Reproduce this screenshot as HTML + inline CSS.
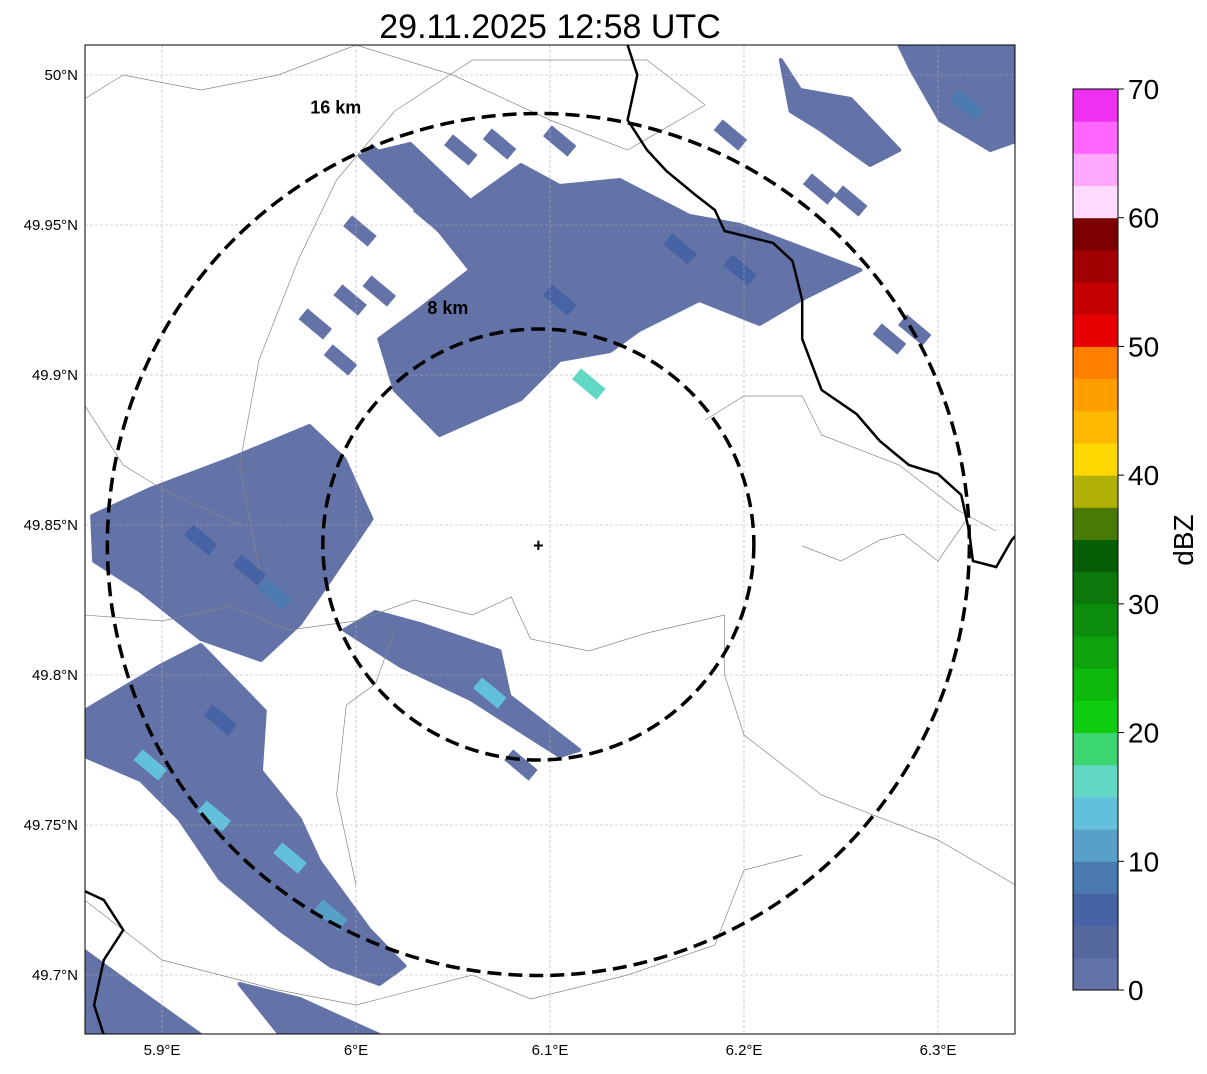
<!DOCTYPE html>
<html><head><meta charset="utf-8"><style>
html,body{margin:0;padding:0;background:#fff;}
body{width:1207px;height:1069px;overflow:hidden;font-family:"Liberation Sans",sans-serif;}
</style></head><body>
<svg id="chart" width="1207" height="1069" xmlns="http://www.w3.org/2000/svg">
<text x="550" y="38" text-anchor="middle" font-size="34" font-family="Liberation Sans">29.11.2025 12:58 UTC</text>
<defs><clipPath id="mapclip"><rect x="85" y="45" width="930" height="989"/></clipPath></defs>
<g id="map" clip-path="url(#mapclip)"></g>
<rect x="85" y="45" width="930" height="989" fill="none" stroke="#000" stroke-width="1"/>
<g id="axes"></g>
<g id="cbar"></g>
</svg>
<script>
const NS="http://www.w3.org/2000/svg";
const lonTicks=[5.9,6.0,6.1,6.2,6.3];
const lonLabels=["5.9°E","6°E","6.1°E","6.2°E","6.3°E"];
const latTicks=[50.0,49.95,49.9,49.85,49.8,49.75,49.7];
const latLabels=["50°N","49.95°N","49.9°N","49.85°N","49.8°N","49.75°N","49.7°N"];
const radarLon=6.094, radarLat=49.8435;
const ringKm=[16,8];
const cbTicks=[0,10,20,30,40,50,60,70];
const cbBins=["#6373a8","#5568a0","#4862a6","#4a7ab0","#58a0c8","#62c0dc","#60d8c4","#3cd670","#10cc10","#0eb90e","#0ea30e","#0c8c0c","#0b780b","#055e05","#4a7a06","#b0b006","#ffd800","#ffb800","#ff9e00","#ff7f00","#e60000","#c40000","#a20000","#7c0000","#ffdcff","#ffaaff","#ff66ff","#f030f0"];
const echoRegions=[
 {dbz:1,pts:[[6.002,49.973],[6.028,49.977],[6.059,49.958],[6.085,49.970],[6.105,49.963],[6.136,49.965],[6.172,49.953],[6.198,49.950],[6.219,49.945],[6.260,49.935],[6.229,49.925],[6.208,49.917],[6.177,49.925],[6.146,49.915],[6.131,49.908],[6.105,49.905],[6.085,49.892],[6.043,49.880],[6.020,49.895],[6.012,49.912],[6.033,49.922],[6.059,49.935],[6.043,49.948],[6.023,49.960]]},
 {dbz:1,pts:[[6.280,50.01],[6.340,50.01],[6.340,49.978],[6.327,49.975],[6.301,49.985],[6.286,50.002]]},
 {dbz:1,pts:[[6.219,50.005],[6.229,49.995],[6.255,49.992],[6.280,49.975],[6.265,49.970],[6.239,49.982],[6.224,49.988]]},
 {dbz:1,pts:[[5.864,49.853],[5.894,49.862],[5.935,49.872],[5.976,49.883],[5.994,49.872],[6.008,49.852],[5.987,49.832],[5.971,49.817],[5.951,49.805],[5.920,49.812],[5.889,49.828],[5.865,49.838]]},
 {dbz:1,pts:[[6.010,49.821],[6.033,49.817],[6.074,49.808],[6.079,49.793],[6.115,49.775],[6.105,49.773],[6.059,49.792],[6.023,49.803],[5.994,49.815]]},
 {dbz:1,pts:[[5.860,49.788],[5.899,49.803],[5.920,49.810],[5.953,49.788],[5.951,49.768],[5.971,49.752],[5.981,49.738],[6.007,49.715],[6.025,49.703],[6.012,49.697],[5.987,49.703],[5.961,49.715],[5.930,49.732],[5.909,49.752],[5.889,49.765],[5.860,49.773]]},
 {dbz:1,pts:[[5.860,49.708],[5.894,49.692],[5.920,49.680],[5.860,49.680]]},
 {dbz:1,pts:[[5.940,49.697],[5.971,49.692],[6.012,49.680],[5.961,49.680]]}
];
const cellLon=[6.120,6.069,5.894,5.927,5.966,5.987,5.958,5.930,6.105,6.167,6.198,5.979,5.997,6.012,6.002,6.038,6.012,5.992,6.074,6.193,6.239,6.255,6.275,6.288,6.085,6.054,6.105,5.920,5.945,6.315];
const cellLat=[49.897,49.794,49.770,49.753,49.739,49.720,49.827,49.785,49.925,49.942,49.935,49.917,49.925,49.928,49.948,49.953,49.972,49.905,49.977,49.980,49.962,49.958,49.912,49.915,49.770,49.975,49.978,49.845,49.835,49.990];
const cellDbz=[17,14,13,13,13,12,8,6,6,6,5,1,1,1,1,1,1,1,1,1,1,1,1,1,1,1,1,5,6,8];
const borderThin=[
 [[5.860,49.82],[5.900,49.818],[5.935,49.823],[5.965,49.815],[6.000,49.818],[6.030,49.825],[6.060,49.820],[6.080,49.826],[6.090,49.812],[6.120,49.808],[6.150,49.814],[6.190,49.820],[6.190,49.800],[6.200,49.780],[6.240,49.760],[6.300,49.745],[6.340,49.730]],
 [[6.000,49.730],[5.990,49.760],[5.995,49.790],[6.010,49.797],[6.020,49.815]],
 [[6.180,49.885],[6.200,49.893],[6.230,49.893],[6.240,49.880],[6.280,49.870],[6.310,49.855],[6.330,49.848]],
 [[6.230,49.843],[6.250,49.838],[6.270,49.845],[6.282,49.847],[6.300,49.838],[6.315,49.852]],
 [[5.950,49.835],[5.940,49.870],[5.950,49.905],[5.970,49.938],[5.990,49.965],[6.020,49.988],[6.060,50.005],[6.150,50.005],[6.180,49.990]],
 [[5.860,49.890],[5.880,49.870],[5.900,49.862],[5.940,49.850]],
 [[5.860,49.725],[5.900,49.705],[5.930,49.700],[5.960,49.695],[6.000,49.690],[6.060,49.700],[6.090,49.692],[6.140,49.700],[6.185,49.710],[6.200,49.735],[6.230,49.740]],
 [[5.860,49.992],[5.880,50.0],[5.920,49.995],[5.960,50.0],[6.000,50.01],[6.050,50.0],[6.100,49.985],[6.140,49.975],[6.180,49.990]]
];
const borderThick=[
 [[6.14,50.01],[6.145,50.0],[6.140,49.985],[6.150,49.975],[6.160,49.968],[6.175,49.960],[6.185,49.955],[6.190,49.948],[6.215,49.944],[6.225,49.938],[6.230,49.925],[6.230,49.912],[6.240,49.895],[6.258,49.887],[6.270,49.878],[6.285,49.870],[6.300,49.867],[6.312,49.860],[6.316,49.848],[6.318,49.838],[6.330,49.836],[6.338,49.845],[6.345,49.850]],
 [[5.860,49.728],[5.870,49.725],[5.880,49.715],[5.870,49.705],[5.865,49.690],[5.870,49.680]]
];
const X=lon=>162+(lon-5.9)*1940;
const Y=lat=>75+(50-lat)*3000;
const KM_PX=431/16;
const map=document.getElementById('map');
const axes=document.getElementById('axes');
const cbar=document.getElementById('cbar');
function mk(tag,attrs,parent){const e=document.createElementNS(NS,tag);for(const k in attrs)e.setAttribute(k,attrs[k]);parent.appendChild(e);return e;}
function colorFor(d){let i=Math.floor(d/2.5);if(i<0)i=0;if(i>27)i=27;return cbBins[i];}
echoRegions.forEach(r=>{
 const p=mk('polygon',{points:r.pts.map(q=>X(q[0])+','+Y(q[1])).join(' '),fill:colorFor(r.dbz),stroke:colorFor(r.dbz),'stroke-width':4,'stroke-linejoin':'round'},map);
 
 
});
cellLon.forEach((lo,i)=>{
 const cx=X(lo),cy=Y(cellLat[i]);
 const r=mk('rect',{x:cx-16,y:cy-7,width:32,height:14,fill:colorFor(cellDbz[i]),transform:`rotate(40 ${cx} ${cy})`},map);
 
 
});
lonTicks.forEach((v,i)=>{
 const g=mk('line',{x1:X(v),x2:X(v),y1:45,y2:1034,stroke:'#aaa','stroke-width':0.6,'stroke-dasharray':'3,2'},map);
 
 
 const t=mk('text',{x:X(v),y:1055,'text-anchor':'middle','font-size':15},axes);t.textContent=lonLabels[i];
 
 
});
latTicks.forEach((v,i)=>{
 const g=mk('line',{x1:85,x2:1015,y1:Y(v),y2:Y(v),stroke:'#aaa','stroke-width':0.6,'stroke-dasharray':'3,2'},map);
 
 
 const t=mk('text',{x:78,y:Y(v)+5,'text-anchor':'end','font-size':15},axes);t.textContent=latLabels[i];
 
 
});
borderThin.forEach(l=>{const p=mk('polyline',{points:l.map(q=>X(q[0])+','+Y(q[1])).join(' '),fill:'none',stroke:'#888','stroke-width':0.7},map);
 
 });
borderThick.forEach(l=>{const p=mk('polyline',{points:l.map(q=>X(q[0])+','+Y(q[1])).join(' '),fill:'none',stroke:'#000','stroke-width':2.5},map);
 
 });
const cx=X(radarLon),cy=Y(radarLat);
const labelDx={16:-0.47,8:-0.42}, labelDy={16:-1.0,8:-1.07};
ringKm.forEach(k=>{
 const r=k*KM_PX;
 const c=mk('circle',{cx:cx,cy:cy,r:r,fill:'none',stroke:'#000','stroke-width':3.5,'stroke-dasharray':'14,7'},map);
 
 
 const t=mk('text',{x:cx+labelDx[k]*r,y:cy+labelDy[k]*r,'font-size':18,'font-weight':'bold','text-anchor':'middle'},map);
 t.textContent=k+' km';
 
 
});
const m=mk('text',{x:cx,y:cy+7,'text-anchor':'middle','font-size':18,'font-weight':'bold'},map);m.textContent='+';


const cbTop=89,cbBot=990,cbX=1073,cbW=45,per=(cbBot-cbTop)/70;
cbBins.forEach((c,i)=>{
 const r=mk('rect',{x:cbX,y:cbBot-(i+1)*2.5*per,width:cbW,height:2.5*per+0.5,fill:c},cbar);
 
 
});
mk('rect',{x:cbX,y:cbTop,width:cbW,height:cbBot-cbTop,fill:'none',stroke:'#000','stroke-width':1},cbar);
cbTicks.forEach(v=>{
 const y=cbBot-v*per;
 mk('line',{x1:cbX+cbW,x2:cbX+cbW+6,y1:y,y2:y,stroke:'#000'},cbar);
 const t=mk('text',{x:cbX+cbW+10,y:y+10,'font-size':28},cbar);t.textContent=v;
 
 
});
const lab=mk('text',{x:1193,y:540,'font-size':28,'text-anchor':'middle',transform:'rotate(-90 1193 540)'},cbar);lab.textContent='dBZ';


</script>
</body></html>
